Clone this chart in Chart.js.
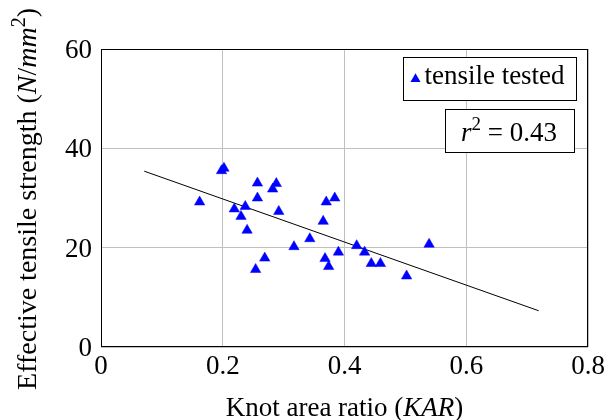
<!DOCTYPE html>
<html>
<head>
<meta charset="utf-8">
<script src="https://cdn.jsdelivr.net/npm/chart.js@4.4.1/dist/chart.umd.min.js"></script>
<style>
  html, body { margin: 0; padding: 0; background: #fff; }
  #c { display: block; }
</style>
</head>
<body>
<canvas id="c" width="605" height="420"></canvas>
<script>
// Knot area ratio (KAR) of each tensile-tested specimen
const kar = [0.162, 0.198, 0.202, 0.257, 0.282, 0.288, 0.257, 0.219, 0.237, 0.230,
             0.292, 0.240, 0.370, 0.384, 0.365, 0.343, 0.317, 0.390, 0.269, 0.254,
             0.368, 0.374, 0.420, 0.433, 0.444, 0.459, 0.502, 0.539];
// Effective tensile strength (N/mm^2) of the same specimens
const strength = [29.2, 35.5, 36.0, 33.0, 31.8, 32.9, 30.0, 27.8, 28.3, 26.3,
                  27.3, 23.5, 29.2, 30.0, 25.3, 21.8, 20.2, 19.1, 17.9, 15.6,
                  17.8, 16.2, 20.4, 19.1, 16.8, 16.8, 14.3, 20.7];
// Least-squares fit line, end points
const fitX = [0.071, 0.719];
const fitY = [35.4, 7.3];
// Axis ticks
const xTicks = [0, 0.2, 0.4, 0.6, 0.8];
const yTicks = [0, 20, 40, 60];
const rSquared = '0.43';

const SERIF = '"Liberation Serif", "DejaVu Serif", serif';
const BLUE = '#0000ff';
const TICK_SIZE = 27;
const TEXT_SIZE = 27;
const YTITLE_SIZE = 28;

const points = kar.map((x, i) => ({ x: x, y: strength[i] }));
const fitLine = fitX.map((x, i) => ({ x: x, y: fitY[i] }));

// Draws a run of text pieces: {t, italic, sup}
function drawRich(ctx, pieces, x, y, size, align) {
  const fontFor = p => (p.italic ? 'italic ' : '') + (p.sup ? Math.round(size * 0.7) : size) + 'px ' + SERIF;
  let total = 0;
  pieces.forEach(p => { ctx.font = fontFor(p); total += ctx.measureText(p.t).width; });
  let cx = align === 'center' ? x - total / 2 : (align === 'right' ? x - total : x);
  ctx.textBaseline = 'alphabetic';
  ctx.textAlign = 'left';
  pieces.forEach(p => {
    ctx.font = fontFor(p);
    ctx.fillText(p.t, cx, p.sup ? y - size * 0.4 : y);
    cx += ctx.measureText(p.t).width;
  });
  return total;
}

function triangle(ctx, cx, cy, r) {
  ctx.beginPath();
  ctx.moveTo(cx, cy - r);
  ctx.lineTo(cx + r * Math.sin(Math.PI / 3), cy + r / 2);
  ctx.lineTo(cx - r * Math.sin(Math.PI / 3), cy + r / 2);
  ctx.closePath();
  ctx.fill();
}

const decorations = {
  id: 'decorations',
  afterDraw(chart) {
    const ctx = chart.ctx;
    const a = chart.chartArea;
    ctx.save();
    // axis frame
    ctx.strokeStyle = '#000';
    ctx.lineWidth = 1;
    ctx.strokeRect(Math.round(a.left) + 0.5, Math.round(a.top) + 0.5,
                   Math.round(a.right - a.left) - 1, Math.round(a.bottom - a.top) - 1);
    ctx.fillStyle = '#000';
    // x-axis title
    drawRich(ctx, [{ t: 'Knot area ratio (' }, { t: 'KAR', italic: true }, { t: ')' }],
             (a.left + a.right) / 2, 416, TEXT_SIZE, 'center');
    // y-axis title
    ctx.save();
    ctx.translate(36, (a.top + a.bottom) / 2 + 1);
    ctx.rotate(-Math.PI / 2);
    drawRich(ctx, [{ t: 'Effective tensile strength (' }, { t: 'N', italic: true }, { t: '/' },
                   { t: 'mm', italic: true }, { t: '2', sup: true }, { t: ')' }],
             0, 0, YTITLE_SIZE, 'center');
    ctx.restore();

    // legend box
    ctx.fillStyle = '#fff';
    ctx.fillRect(403, 57, 173, 43);
    ctx.strokeRect(403.5, 57.5, 173, 43);
    ctx.fillStyle = BLUE;
    triangle(ctx, 415.5, 79, 5.8);
    ctx.fillStyle = '#000';
    drawRich(ctx, [{ t: 'tensile tested' }], 494.5, 84, TEXT_SIZE, 'center');

    // r^2 box
    ctx.fillStyle = '#fff';
    ctx.fillRect(445, 109, 129, 43);
    ctx.strokeRect(445.5, 109.5, 129, 43);
    ctx.fillStyle = '#000';
    drawRich(ctx, [{ t: 'r', italic: true }, { t: '2', sup: true }, { t: ' = ' + rSquared }],
             509, 141, TEXT_SIZE, 'center');
    ctx.restore();
  }
};

new Chart(document.getElementById('c'), {
  type: 'scatter',
  data: {
    datasets: [
      {
        label: 'tensile tested',
        data: points,
        pointStyle: 'triangle',
        pointRadius: 6,
        pointHoverRadius: 6,
        backgroundColor: BLUE,
        borderColor: BLUE,
        borderWidth: 0.5
      },
      {
        type: 'line',
        label: 'fit',
        data: fitLine,
        borderColor: '#000',
        borderWidth: 1,
        pointRadius: 0,
        fill: false
      }
    ]
  },
  options: {
    responsive: false,
    animation: false,
    layout: { padding: { top: 49, right: 17, left: 0, bottom: 0 } },
    plugins: { legend: { display: false }, tooltip: { enabled: false } },
    scales: {
      x: {
        type: 'linear',
        min: xTicks[0],
        max: xTicks[xTicks.length - 1],
        afterBuildTicks: s => { s.ticks = xTicks.map(v => ({ value: v })); },
        afterFit: s => { s.height = 73; s.paddingLeft = 0; s.paddingRight = 0; },
        grid: { color: '#c0c0c0', lineWidth: 1, drawTicks: false },
        border: { display: false },
        ticks: {
          padding: 4,
          color: '#000',
          font: { family: SERIF, size: TICK_SIZE },
          maxRotation: 0,
          autoSkip: false,
          callback: v => String(v)
        }
      },
      y: {
        type: 'linear',
        min: yTicks[0],
        max: yTicks[yTicks.length - 1],
        afterBuildTicks: s => { s.ticks = yTicks.map(v => ({ value: v })); },
        afterFit: s => { s.width = 101; s.paddingTop = 0; s.paddingBottom = 0; },
        grid: { color: '#c0c0c0', lineWidth: 1, drawTicks: false },
        border: { display: false },
        ticks: {
          padding: 9,
          labelOffset: 2,
          color: '#000',
          font: { family: SERIF, size: TICK_SIZE },
          autoSkip: false,
          callback: v => String(v)
        }
      }
    }
  },
  plugins: [decorations]
});
</script>
</body>
</html>
